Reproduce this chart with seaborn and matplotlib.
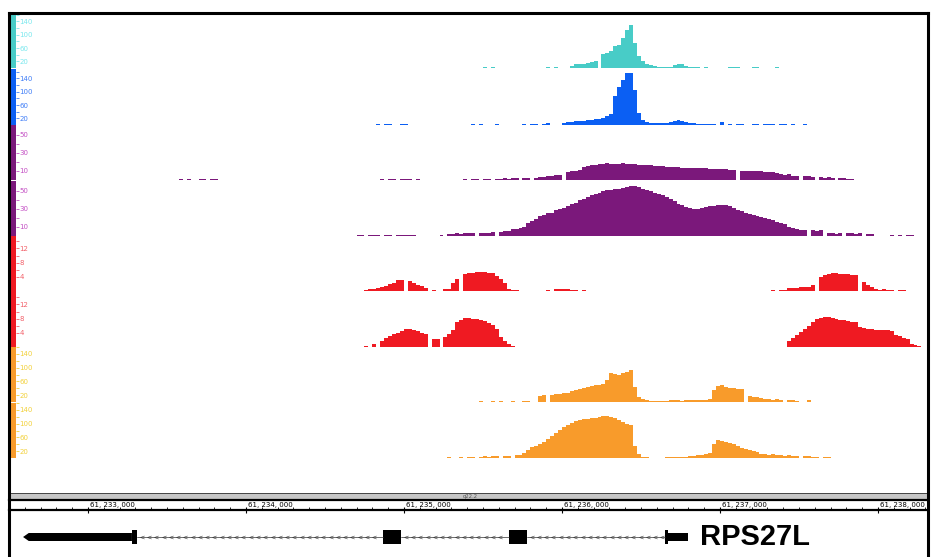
import numpy as np
import pandas as pd
import matplotlib
matplotlib.use("Agg")
import matplotlib.pyplot as plt
from matplotlib.patches import Polygon, Rectangle
import seaborn as sns

sns.set_theme(style="white")
plt.rcParams["font.family"] = ["DejaVu Sans"]

# genomic window (bp) and coverage bin size
x_min = 61_232_500
x_max = 61_238_304
bin_size = 25

# coverage per 25 bp bin, each track starts at its own first bin
cyan_start = 61_235_475
cyan_cov = [0, 3, 0, 3] + [0] * 12 + [
    0, 3, 0, 3, 0, 0, 0, 6, 12, 12, 12, 15, 18, 21, 0, 42, 45, 51, 66, 69, 90, 114, 129,
    75, 36, 21, 12, 9, 6, 3, 3, 3, 3, 9, 12, 12, 6, 3, 3, 3, 0, 3, 0, 0, 0, 0, 0, 3, 3, 3,
    0, 0, 0, 3, 3, 0, 0, 0, 0, 3]

blue_start = 61_234_825
blue_cov = [3, 0, 3, 3, 0, 0, 3, 3] + [0] * 16 + [3, 0, 3, 0, 0, 0, 3] + [0] * 6 + [
    3, 0, 3, 3, 0, 3, 6, 0, 0, 0, 6, 9, 9, 12, 12, 12, 15, 15, 18, 18, 21, 27, 33,
    87, 114, 135, 156, 156, 105, 36, 15, 9, 6, 6, 6, 6, 6, 9, 12, 15, 12, 9, 6,
    6, 3, 3, 3, 3, 3, 0, 9, 0, 3, 0, 3, 3, 0, 0, 3, 3, 0, 3, 3, 3, 0, 3, 3, 0, 3, 0, 0, 3]

purple1_start = 61_233_575
purple1_cov = [1, 0, 1, 0, 0, 1, 1, 0, 1, 1] + [0] * 40 + [0, 1, 0, 1, 1, 0, 1, 1, 1, 0, 1] + [0] * 11 + [
    1, 0, 1, 1, 0, 1, 1, 0, 1, 1, 2, 1, 2, 2, 0, 2, 2, 0, 2, 3, 3, 4, 4, 6, 6,
    0, 9, 10, 10, 11, 14, 15, 17, 17,
    18, 18, 19, 18, 18, 18, 19, 18, 18, 18, 17,
    17, 17, 17, 15, 15, 15, 14, 14, 14, 14, 13,
    13, 13, 13, 13, 13, 13, 12, 12, 12, 12, 12, 11, 11, 0,
    10, 10, 10, 10, 10, 10, 9, 9, 9, 8, 7, 6, 7, 4, 4,
    0, 4, 4, 3, 0, 3, 2, 3, 2, 0, 2, 2, 1, 1]

purple2_start = 61_234_700
purple2_cov = [1, 1, 0, 1, 1, 1, 0, 1, 1, 0, 1, 1, 1, 1, 1] + [0] * 6 + [
    1, 0, 2, 2, 3, 2, 3, 3, 3, 0, 3, 3, 3, 4, 0, 4, 6, 6,
    8, 8, 9, 10, 14, 17, 19, 22, 23, 25, 26, 29, 30, 31, 33, 35, 37, 40, 41, 43,
    46, 47, 48, 50, 51, 51, 52, 52, 53, 54, 55, 55, 54, 52, 51, 50, 48, 47, 45, 43,
    41, 39, 36, 34, 32, 31, 30, 30, 31, 32, 33, 33, 34, 34, 34, 33, 31, 29, 28, 25,
    24, 23, 22, 21, 20, 19, 18, 15, 14, 13, 10, 9, 8, 7, 7,
    0, 7, 6, 7, 0, 3, 3, 2, 3, 0, 3, 3, 2, 3, 0, 2, 2, 0, 0, 0, 0, 1, 0, 1, 0, 1, 1]

red1_start = 61_234_750
red1_cov = [
    0.3, 0.6, 0.6, 0.8, 1.1, 1.4, 2.0, 2.3, 3.1, 3.1, 0, 2.8, 2.3, 1.7, 1.4, 0.8, 0, 0.3,
    0, 0, 0.6, 0.6, 2.3, 3.4, 0, 4.8, 5.1, 5.1, 5.4, 5.4, 5.4, 5.1, 5.1, 4.2, 3.4, 2.3,
    0.6, 0.3, 0.3] + [0] * 7 + [0.3, 0, 0.6, 0.6, 0.6, 0.6, 0.3, 0.3, 0, 0.3] + [0] * 47 + [
    0.3, 0, 0.3, 0.3, 0.8, 0.8, 0.8, 1.1, 1.1, 1.1, 1.7, 0, 3.9, 4.5, 4.8, 5.1, 5.1, 4.8,
    4.8, 4.8, 4.5, 4.5, 0, 2.5, 1.7, 1.1, 0.6, 0.3, 0.6, 0.3, 0.3, 0, 0.3, 0.3]

red2_start = 61_234_750
red2_cov = [
    0.3, 0, 0.8, 0, 1.7, 2.5, 3.1, 3.7, 3.9, 4.5, 5.1, 5.1, 4.8, 4.5, 3.9, 3.7, 0, 2.3,
    2.3, 0, 2.8, 3.7, 4.8, 7.0, 7.6, 8.2, 8.2, 7.9, 7.9, 7.6, 7.3, 6.8, 6.2, 5.1, 2.8,
    1.7, 0.8, 0.3] + [0] * 69 + [
    1.7, 2.5, 3.4, 4.2, 5.1, 5.9, 7.0, 7.9, 8.2, 8.5, 8.5, 8.2, 7.9, 7.6, 7.6, 7.3, 7.0,
    7.0, 5.6, 5.4, 5.1, 5.1, 4.8, 4.8, 4.8, 4.8, 4.5, 3.4, 3.1, 2.5, 2.3, 0.8, 0.6, 0.3]

orange1_start = 61_235_475
orange1_cov = [
    3, 0, 0, 3, 0, 3, 0, 0, 3, 0, 0, 3, 3, 0, 0, 16, 19, 0, 19, 22, 22, 25, 25, 30, 33,
    36, 38, 41, 44, 47, 47, 50, 60, 80, 77, 74, 80, 82, 88, 41, 14, 8, 5, 3, 3, 3, 3, 3,
    5, 5, 5, 3, 5, 5, 5, 5, 5, 5, 8, 33, 44, 47, 41, 38, 38, 36, 36, 0, 16, 14, 14, 11,
    8, 8, 5, 8, 5, 0, 5, 5, 3, 0, 0, 5]

orange2_start = 61_235_275
orange2_cov = [
    3, 0, 0, 3, 0, 3, 3, 0, 3, 5, 3, 5, 5, 0, 5, 5, 0, 8, 8, 14, 22, 30, 33, 38, 44, 52,
    60, 69, 77, 85, 91, 96, 102, 105, 107, 107, 110, 110, 113, 116, 116, 113, 110, 105,
    99, 94, 91, 33, 11, 3, 3, 0, 0, 0, 0, 3, 3, 3, 3, 3, 3, 5, 5, 8, 8, 11, 14, 38, 50,
    47, 44, 41, 38, 33, 28, 25, 22, 19, 16, 11, 11, 8, 11, 8, 8, 5, 8, 5, 5, 0, 5, 5, 3,
    3, 0, 3, 3]

# y axis labels of the tracks
big_ticks = [140, 100, 60, 20]
big_minor = [160, 120, 80, 40]
purple_ticks = [50, 30, 10]
purple_minor = [40, 20]
red_ticks = [12, 8, 4]
red_minor = [14, 10, 6]

# ruler and gene model (RPS27L, minus strand)
ruler_ticks = [61_233_000, 61_234_000, 61_235_000, 61_236_000, 61_237_000, 61_238_000]
utr3 = [61_232_589, 61_232_625, 61_233_278]
exons = [(61_233_278, 61_233_310), (61_234_867, 61_234_981), (61_235_665, 61_235_778),
         (61_236_652, 61_236_671)]
utr5 = (61_236_671, 61_236_797)
gene_name = "RPS27L"
band_name = "q22.2"

W, H = 933, 557
fig = plt.figure(figsize=(W / 100, H / 100), dpi=100)
fig.patch.set_facecolor("white")


def px_axes(x0, y0, x1, y1):
    return fig.add_axes([x0 / W, 1 - y1 / H, (x1 - x0) / W, (y1 - y0) / H])


tracks = [
    (cyan_start, cyan_cov, "#48ccc7", "#7be8ee", 165, big_ticks, big_minor, (13, 68)),
    (blue_start, blue_cov, "#0b5ff3", "#3f7df7", 168, big_ticks, big_minor, (69, 125)),
    (purple1_start, purple1_cov, "#7b187b", "#c451c4", 61, purple_ticks, purple_minor, (125, 180)),
    (purple2_start, purple2_cov, "#7b187b", "#c451c4", 61, purple_ticks, purple_minor, (181, 236)),
    (red1_start, red1_cov, "#ef1a22", "#f2626b", 15.5, red_ticks, red_minor, (236, 291)),
    (red2_start, red2_cov, "#ef1a22", "#f2626b", 15.8, red_ticks, red_minor, (291, 347)),
    (orange1_start, orange1_cov, "#f89b2b", "#f2d13c", 152, big_ticks, big_minor, (347, 402)),
    (orange2_start, orange2_cov, "#f89b2b", "#f2d13c", 152, big_ticks, big_minor, (403, 458)),
]

for start, cov, color, lab_color, ymax, ticks, minor, (top, bottom) in tracks:
    ax = px_axes(9, top, 926, bottom)
    ax.patch.set_alpha(0)
    n = len(cov)
    df = pd.DataFrame({"pos": start + bin_size * np.arange(n) + bin_size / 2, "cov": cov})
    sns.histplot(data=df, x="pos", weights="cov", binwidth=bin_size,
                 binrange=(start, start + bin_size * n), element="step", fill=True,
                 color=color, alpha=1, linewidth=0, ax=ax)
    ax.set_xlim(x_min, x_max)
    ax.set_ylim(0, ymax)
    ax.set_axis_off()

    # coloured scale strip at the left with its ticks
    sx = px_axes(10, top, 15.5, bottom)
    sx.set_facecolor(color)
    sx.set_ylim(0, ymax)
    sx.set_xticks([])
    for s in sx.spines.values():
        s.set_visible(False)
    sx.yaxis.tick_right()
    sx.set_yticks(ticks)
    sx.set_yticklabels([str(t) for t in ticks])
    sx.set_yticks(minor, minor=True)
    sx.tick_params(axis="y", which="major", direction="out", length=2.5, width=0.6,
                   color=lab_color, labelcolor=lab_color, labelsize=5, pad=0.5)
    sx.tick_params(axis="y", which="minor", direction="out", length=2, width=0.6,
                   color=lab_color)

# grey band bar
gx = px_axes(9, 492.5, 928, 500)
gx.set_facecolor("#c6c6c6")
gx.set_xlim(x_min, x_max)
gx.set_ylim(0, 1)
gx.set_xticks([])
gx.set_yticks([])
for side in ["left", "right"]:
    gx.spines[side].set_visible(False)
gx.spines["top"].set_linewidth(0.7)
gx.spines["top"].set_color("#444444")
gx.spines["bottom"].set_linewidth(1.6)
gx.spines["bottom"].set_color("black")
gx.text(61_235_411, 0.5, band_name, fontsize=3.8, color="#555555", ha="center", va="center")

# ruler
rx = px_axes(9, 500, 926, 510)
rx.patch.set_alpha(0)
rx.set_xlim(x_min, x_max)
rx.set_ylim(0, 1)
rx.set_yticks([])
for side in ["left", "right", "top"]:
    rx.spines[side].set_visible(False)
rx.spines["bottom"].set_linewidth(1.6)
rx.spines["bottom"].set_color("black")
rx.set_xticks(ruler_ticks)
rx.set_xticks(np.arange(61_232_600, x_max, 100), minor=True)
rx.tick_params(axis="x", which="major", direction="inout", length=4, width=0.8,
               color="black", labelbottom=False, bottom=True)
rx.tick_params(axis="x", which="minor", direction="in", length=2, width=0.6,
               color="black", bottom=True)
for t in ruler_ticks:
    rx.text(t + 15, 0.52, f"{t:,}".replace(",", ", "), fontsize=5, color="black",
            ha="left", va="center")

# gene model
gn = px_axes(9, 517, 926, 557)
gn.patch.set_alpha(0)
gn.set_xlim(x_min, x_max)
gn.set_ylim(-1, 1)
gn.set_axis_off()
thin, tall = 0.2, 0.36
gn.add_patch(Polygon([(utr3[0], 0), (utr3[1], thin), (utr3[2], thin), (utr3[2], -thin),
                      (utr3[1], -thin)], closed=True, color="black", lw=0))
for a, b in exons:
    gn.add_patch(Rectangle((a, -tall), b - a, 2 * tall, color="black", lw=0))
gn.add_patch(Rectangle((utr5[0], -thin), utr5[1] - utr5[0], 2 * thin, color="black", lw=0))
introns = [(exons[0][1], exons[1][0]), (exons[1][1], exons[2][0]), (exons[2][1], exons[3][0])]
for a, b in introns:
    gn.plot([a, b], [0, 0], color="#333333", lw=0.5)
    arrows = np.arange(a + 30, b - 15, 46)
    gn.plot(arrows, np.zeros_like(arrows), ls="none", marker="$<$", markersize=3,
            color="#333333", markeredgewidth=0)
gn.text(61_236_873, 0, gene_name, fontsize=21, fontweight="bold",
        family=["Liberation Sans", "DejaVu Sans"], ha="left", va="center", color="black")

# outer frame
fx = px_axes(8.5, 12.5, 928.5, 580)
fx.patch.set_alpha(0)
fx.set_xticks([])
fx.set_yticks([])
fx.spines["bottom"].set_visible(False)
for side in ["left", "top", "right"]:
    fx.spines[side].set_linewidth(2.2)
    fx.spines[side].set_color("black")

fig.savefig("out.png", dpi=100)
